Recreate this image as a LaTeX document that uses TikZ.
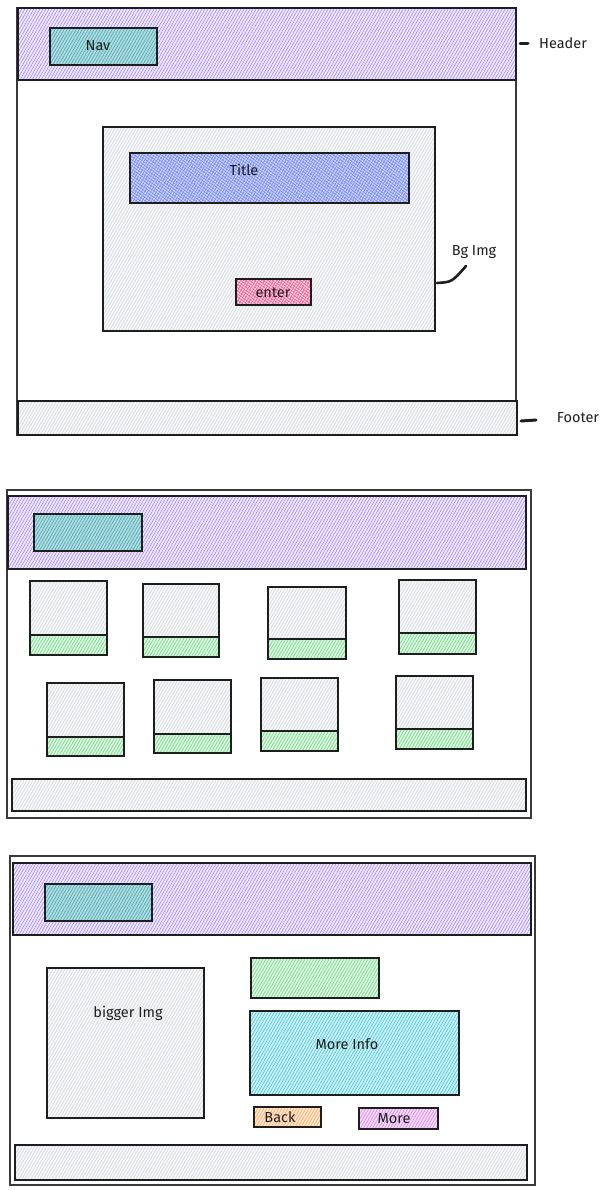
\documentclass[tikz,border=0pt]{standalone}
\usepackage{fontspec}
\setmainfont{Fira Sans}
\usetikzlibrary{patterns.meta}
\definecolor{ink}{HTML}{1E1E1E}
\definecolor{frameink}{HTML}{3A3A3A}
\definecolor{purf}{HTML}{EFE9FF}\definecolor{purl}{HTML}{9D80F7}
\definecolor{grayf}{HTML}{F6F7F8}\definecolor{grayl}{HTML}{D3D7DB}
\definecolor{navf}{HTML}{B2D9DE}\definecolor{navl}{HTML}{3AA9B4}
\definecolor{bluef}{HTML}{CDD4FC}\definecolor{bluel}{HTML}{6F86F3}
\definecolor{pinkf}{HTML}{FAD0DE}\definecolor{pinkl}{HTML}{E8578C}
\definecolor{greenf}{HTML}{D9F5DE}\definecolor{greenl}{HTML}{6ED783}
\definecolor{cyanf}{HTML}{CBF0F4}\definecolor{cyanl}{HTML}{3CC4D6}
\definecolor{orf}{HTML}{FFE6D1}\definecolor{orl}{HTML}{FFA552}
\definecolor{vif}{HTML}{F3DBF8}\definecolor{vil}{HTML}{D77AEE}
\tikzset{
  box/.style={draw=ink, line width=1.1pt, inner sep=0pt, outer sep=0pt, anchor=north west},
  hatch/.style 2 args={preaction={fill=#1}, preaction={pattern={Lines[angle=60,distance=2.6pt,line width=0.55pt]}, pattern color=#2}},
  xhatch/.style 2 args={preaction={fill=#1}, preaction={pattern={Lines[angle=60,distance=2.6pt,line width=0.5pt]}, pattern color=#2}, preaction={pattern={Lines[angle=-35,distance=2.6pt,line width=0.5pt]}, pattern color=#2}},
  frame/.style={draw=frameink, line width=1.1pt, inner sep=0pt, outer sep=0pt, anchor=north west},
  lbl/.style={font=\fontsize{14.5}{16}\selectfont, text=ink, inner sep=1pt},
  markline/.style={draw=ink, line width=3pt, line cap=round},
}
\newcommand\rb[6]{\node[#6, minimum width={#4pt-#2pt}, minimum height={#5pt-#3pt}] (#1) at (#2,#3) {};}
\begin{document}
\begin{tikzpicture}[x=1pt,y=-1pt]
\fill[white] (0,0) rectangle (610,1191);
\useasboundingbox (0,0) rectangle (610,1191);
% ---------- Frame 1 ----------
\rb{f1}{17}{8}{516}{435}{frame}
\rb{h1}{18}{8}{516}{80}{box,hatch={purf}{purl}}
\rb{nav1}{50}{28}{157}{65}{box,hatch={navf}{navl}}
\node[lbl] (navt) at (98,46) {Nav};
\rb{bg}{103}{127}{435}{331}{box,hatch={grayf}{grayl}}
\rb{title}{130}{153}{409}{203}{box,xhatch={bluef}{bluel}}
\node[lbl] (titlet) at (244,170) {Title};
\rb{enter}{236}{279}{311}{305}{box,xhatch={pinkf}{pinkl}}
\node[lbl] (entert) at (273,293) {enter};
\rb{ft1}{18}{401}{517}{435}{box,hatch={grayf}{grayl}}
% labels
\node[lbl] (hdrl) at (563,43) {Header};
\coordinate (hm1) at (520,43); \coordinate (hm2) at (528,43);
\draw[markline] (hm1) -- (hm2);
\node[lbl] (bgl) at (474,252) {Bg Img};
\coordinate (bm1) at (437,283); \coordinate (bm2) at (466,266);
\draw[markline, line width=2.6pt] (bm1) .. controls (452,282) .. (bm2);
\node[lbl] (ftl) at (578,418) {Footer};
\coordinate (fm1) at (521,421); \coordinate (fm2) at (536,420);
\draw[markline] (fm1) -- (fm2);
% ---------- Frame 2 ----------
\rb{f2}{7}{490}{531}{818}{frame}
\rb{h2}{8}{496}{526}{569}{box,hatch={purf}{purl}}
\rb{nav2}{34}{514}{142}{551}{box,hatch={navf}{navl}}
\rb{c1}{30}{581}{107}{655}{box,hatch={grayf}{grayl}}
\rb{g1}{30}{635}{107}{655}{box,hatch={greenf}{greenl}}
\rb{c2}{143}{584}{219}{657}{box,hatch={grayf}{grayl}}
\rb{g2}{143}{637}{219}{657}{box,hatch={greenf}{greenl}}
\rb{c3}{268}{587}{346}{659}{box,hatch={grayf}{grayl}}
\rb{g3}{268}{639}{346}{659}{box,hatch={greenf}{greenl}}
\rb{c4}{399}{580}{476}{654}{box,hatch={grayf}{grayl}}
\rb{g4}{399}{633}{476}{654}{box,hatch={greenf}{greenl}}
\rb{c5}{47}{683}{124}{756}{box,hatch={grayf}{grayl}}
\rb{g5}{47}{737}{124}{756}{box,hatch={greenf}{greenl}}
\rb{c6}{154}{680}{231}{753}{box,hatch={grayf}{grayl}}
\rb{g6}{154}{734}{231}{753}{box,hatch={greenf}{greenl}}
\rb{c7}{261}{678}{338}{751}{box,hatch={grayf}{grayl}}
\rb{g7}{261}{731}{338}{751}{box,hatch={greenf}{greenl}}
\rb{c8}{396}{676}{473}{749}{box,hatch={grayf}{grayl}}
\rb{g8}{396}{729}{473}{749}{box,hatch={greenf}{greenl}}
\rb{ft2}{12}{779}{526}{811}{box,hatch={grayf}{grayl}}
% ---------- Frame 3 ----------
\rb{f3}{10}{856}{535}{1185}{frame}
\rb{h3}{13}{863}{531}{935}{box,hatch={purf}{purl}}
\rb{nav3}{45}{884}{152}{921}{box,hatch={navf}{navl}}
\rb{big}{47}{968}{204}{1118}{box,hatch={grayf}{grayl}}
\node[lbl] (bigt) at (128,1013) {bigger Img};
\rb{gr3}{251}{958}{379}{998}{box,hatch={greenf}{greenl}}
\rb{info}{250}{1011}{459}{1095}{box,hatch={cyanf}{cyanl}}
\node[lbl] (infot) at (347,1044) {More Info};
\rb{back}{254}{1107}{321}{1127}{box,hatch={orf}{orl}}
\node[lbl] (backt) at (280,1117) {Back};
\rb{more}{359}{1108}{438}{1129}{box,hatch={vif}{vil}}
\node[lbl] (moret) at (394,1119) {More};
\rb{ft3}{15}{1145}{527}{1180}{box,hatch={grayf}{grayl}}
\end{tikzpicture}
\end{document}
